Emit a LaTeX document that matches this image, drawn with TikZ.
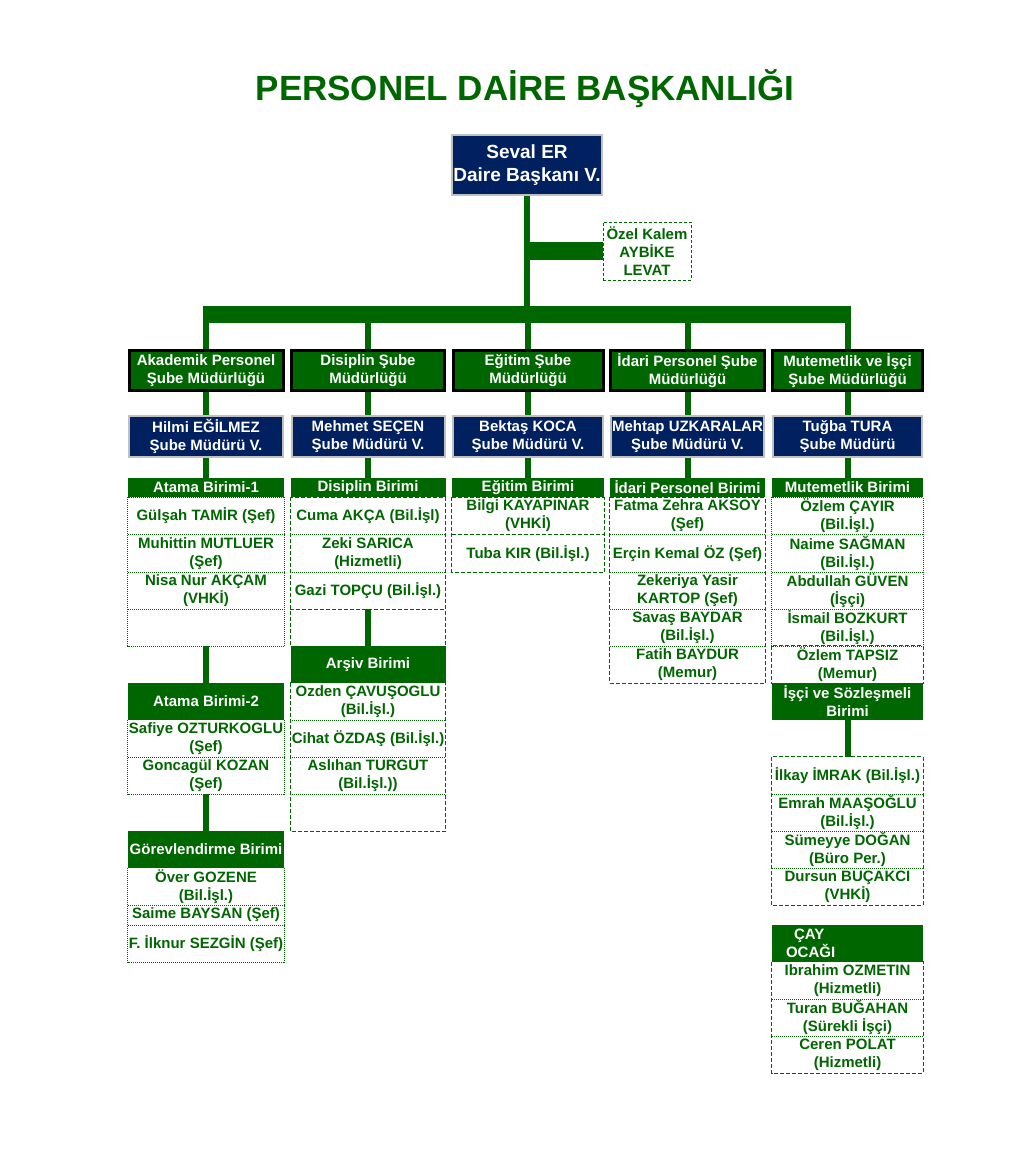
\documentclass[tikz,border=0pt]{standalone}
\usepackage{fontspec}
\setmainfont{Liberation Sans}
\usetikzlibrary{backgrounds}
\definecolor{dgreen}{RGB}{0,102,0}
\definecolor{navy}{RGB}{0,32,96}
\definecolor{lgray}{RGB}{192,192,192}
\tikzset{
  txt/.style={font=\fontsize{15}{18}\selectfont\bfseries, align=center, inner sep=0pt},
  ttl/.style={font=\fontsize{35}{40}\selectfont\bfseries, text=dgreen},
  topbox/.style={txt, fill=navy, draw=lgray, line width=2.5pt, text=white,
    font=\fontsize{19}{23}\selectfont\bfseries, minimum width=150pt, minimum height=60pt},
  ozelbox/.style={txt, draw=dgreen, line width=0.8pt, dash pattern=on 3pt off 2pt,
    text=dgreen, minimum width=88pt, minimum height=58pt},
  dept/.style={txt, fill=dgreen, draw=black, line width=3pt, text=white, minimum height=40pt},
  mgr/.style={txt, fill=navy, draw=lgray, line width=2pt, text=white, minimum height=41pt},
  hdr/.style={txt, fill=dgreen, text=white},
  cell/.style={txt, text=dgreen, minimum height=37pt},
  colA/.style={minimum width=156pt},
  colB/.style={minimum width=155pt},
  colC/.style={minimum width=152pt},
  colD/.style={minimum width=155pt},
  colE/.style={minimum width=151pt},
  link/.style={draw=dgreen, line width=6pt},
  bus/.style={draw=dgreen, line width=17pt},
  dotline/.style={draw=dgreen, line width=0.8pt, dash pattern=on 1pt off 1pt},
  dashline/.style={draw=dgreen, line width=0.8pt, dash pattern=on 4pt off 2pt}
}
\begin{document}
\begin{tikzpicture}[x=1pt, y=-1pt]
\useasboundingbox (0,0) rectangle (1024,1165);

\node[ttl] (title) at (525,89) {PERSONEL DAİRE BAŞKANLIĞI};
\node[topbox] (head) at (527,165) {Seval ER\\Daire Başkanı V.};
\node[ozelbox] (ozel) at (647,251) {Özel Kalem\\AYBİKE\\LEVAT};
\coordinate (busL) at (202.5,314.5);
\coordinate (busR) at (850.5,314.5);

% sube mudurlukleri
\node[dept, minimum width=154pt] (deptA) at (206,370.5) {Akademik Personel\\Şube Müdürlüğü};
\node[dept, minimum width=153pt] (deptB) at (368,370.5) {Disiplin Şube\\Müdürlüğü};
\node[dept, minimum width=150pt] (deptC) at (528,370.5) {Eğitim Şube\\Müdürlüğü};
\node[dept, minimum width=154pt] (deptD) at (687.5,370.5) {İdari Personel Şube\\Müdürlüğü};
\node[dept, minimum width=150pt] (deptE) at (847.5,370.5) {Mutemetlik ve İşçi\\Şube Müdürlüğü};

\node[mgr, minimum width=154pt] (mgrA) at (206,436.5) {Hilmi EĞİLMEZ\\Şube Müdürü V.};
\node[mgr, minimum width=153pt] (mgrB) at (368,436.5) {Mehmet SEÇEN\\Şube Müdürü V.};
\node[mgr, minimum width=150pt] (mgrC) at (528,436.5) {Bektaş KOCA\\Şube Müdürü V.};
\node[mgr, minimum width=153pt] (mgrD) at (687.5,436.5) {Mehtap UZKARALAR\\Şube Müdürü V.};
\node[mgr, minimum width=149pt] (mgrE) at (847.5,436.5) {Tuğba TURA\\Şube Müdürü};

% akademik
\node[hdr, colA, minimum height=19pt] (atama1) at (206,487.5) {Atama Birimi-1};
\node[cell, colA] (a11) at (206,516) {Gülşah TAMİR (Şef)};
\node[cell, colA] (a12) at (206,553.5) {Muhittin MUTLUER\\(Şef)};
\node[cell, colA] (a13) at (206,590.5) {Nisa Nur AKÇAM\\(VHKİ)};
\node[cell, colA] (a14) at (206,627.5) {};
\node[hdr, colA, minimum height=37pt] (atama2) at (206,701.5) {Atama Birimi-2};
\node[cell, colA] (a21) at (206,738.5) {Safiye OZTURKOGLU\\(Şef)};
\node[cell, colA] (a22) at (206,775.5) {Goncagül KOZAN\\(Şef)};
\node[hdr, colA, minimum height=37pt] (gorev) at (206,849.5) {Görevlendirme Birimi};
\node[cell, colA] (g1) at (206,886.5) {Över GOZENE\\(Bil.İşl.)};
\node[cell, colA, minimum height=20pt] (g2) at (206,915) {Saime BAYSAN (Şef)};
\node[cell, colA] (g3) at (206,943.5) {F. İlknur SEZGİN (Şef)};

% disiplin
\node[hdr, colB, minimum height=19pt] (disiplin) at (368,487.5) {Disiplin Birimi};
\node[cell, colB] (b11) at (368,516) {Cuma AKÇA (Bil.İşl)};
\node[cell, colB] (b12) at (368,553.5) {Zeki SARICA\\(Hizmetli)};
\node[cell, colB] (b13) at (368,590.5) {Gazi TOPÇU (Bil.İşl.)};
\node[cell, colB] (b14) at (368,627.5) {};
\node[hdr, colB, minimum height=37pt] (arsiv) at (368,664.5) {Arşiv Birimi};
\node[cell, colB] (b21) at (368,701.5) {Ozden ÇAVUŞOGLU\\(Bil.İşl.)};
\node[cell, colB] (b22) at (368,738.5) {Cihat ÖZDAŞ (Bil.İşl.)};
\node[cell, colB] (b23) at (368,775.5) {Aslıhan TURGUT\\(Bil.İşl.))};
\node[cell, colB] (b24) at (368,812.5) {};

% egitim
\node[hdr, colC, minimum height=19pt] (egitim) at (528,487.5) {Eğitim Birimi};
\node[cell, colC] (c1) at (528,516) {Bilgi KAYAPINAR\\(VHKİ)};
\node[cell, colC] (c2) at (528,553.5) {Tuba KIR (Bil.İşl.)};

% idari
\node[hdr, colD, minimum height=19pt] (idari) at (687.5,487.5) {İdari Personel Birimi};
\node[cell, colD] (d1) at (687.5,516) {Fatma Zehra AKSOY\\(Şef)};
\node[cell, colD] (d2) at (687.5,553.5) {Erçin Kemal ÖZ (Şef)};
\node[cell, colD] (d3) at (687.5,590.5) {Zekeriya Yasir\\KARTOP (Şef)};
\node[cell, colD] (d4) at (687.5,627.5) {Savaş BAYDAR\\(Bil.İşl.)};
\node[cell, colD] (d5) at (687.5,664.5) {Fatih BAYDUR\\(Memur)};

% mutemetlik
\node[hdr, colE, minimum height=19pt] (mutemet) at (847.5,487.5) {Mutemetlik Birimi};
\node[cell, colE] (e1) at (847.5,516) {Özlem ÇAYIR\\(Bil.İşl.)};
\node[cell, colE] (e2) at (847.5,553.5) {Naime SAĞMAN\\(Bil.İşl.)};
\node[cell, colE] (e3) at (847.5,590.5) {Abdullah GÜVEN\\(İşçi)};
\node[cell, colE] (e4) at (847.5,627.5) {İsmail BOZKURT\\(Bil.İşl.)};
\node[cell, colE] (e5) at (847.5,664.5) {Özlem TAPSIZ\\(Memur)};
\node[hdr, colE, minimum height=37pt] (isci) at (847.5,701.5) {İşçi ve Sözleşmeli\\Birimi};
\node[cell, colE] (e21) at (847.5,775.5) {İlkay İMRAK (Bil.İşl.)};
\node[cell, colE] (e22) at (847.5,812.5) {Emrah MAAŞOĞLU\\(Bil.İşl.)};
\node[cell, colE] (e23) at (847.5,849.5) {Sümeyye DOĞAN\\(Büro Per.)};
\node[cell, colE] (e24) at (847.5,886.5) {Dursun BUÇAKCI\\(VHKİ)};
\node[hdr, text width=151pt, align=left, minimum height=37pt] (cay) at (847.5,943.5) {\hspace*{22pt}ÇAY\\\hspace*{14pt}OCAĞI};
\node[cell, colE] (e31) at (847.5,980.5) {Ibrahim OZMETIN\\(Hizmetli)};
\node[cell, colE] (e32) at (847.5,1017.5) {Turan BUĞAHAN\\(Sürekli İşçi)};
\node[cell, colE] (e33) at (847.5,1054.5) {Ceren POLAT\\(Hizmetli)};

% cizgiler
\begin{pgfonlayer}{background}
  \fill[white] (0,0) rectangle (1024,1165);
  \draw[link] (head.south) -- (head.south |- busL);
  \draw[link, line width=18pt] (head.south |- ozel.west) -- (ozel.west);
  \draw[bus] (busL) -- (busR);
  \foreach \c in {A,B,C,D,E} {
    \draw[link] (dept\c.north |- busL) -- (dept\c.north);
    \draw[link] (dept\c.south) -- (mgr\c.north);
  }
  \draw[link] (mgrA.south) -- (atama1.north);
  \draw[link] (mgrB.south) -- (disiplin.north);
  \draw[link] (mgrC.south) -- (egitim.north);
  \draw[link] (mgrD.south) -- (idari.north);
  \draw[link] (mgrE.south) -- (mutemet.north);
  \draw[link] (a14.south) -- (atama2.north);
  \draw[link] (a22.south) -- (gorev.north);
  \draw[link] (b13.south) -- (arsiv.north);
  \draw[link] (isci.south) -- (e21.north);
\end{pgfonlayer}

\foreach \n in {a11,a12,a13,a21,g1,g2,b11,b12,b21,b22,b23,d1,d2,d3,d4,e1,e2,e3,e21,e22,e23,e31,e32}
  \draw[dotline] (\n.south west) -- (\n.south east);
\draw[dashline] (b13.south west) -- (b13.south east);
\draw[dashline] (c1.south west) -- (c1.south east);
\draw[dotline] (a11.north west) rectangle (a14.south east);
\draw[dotline] (a21.north west) rectangle (a22.south east);
\draw[dotline] (g1.north west) rectangle (g3.south east);
\draw[dotline] (e1.north west) rectangle (e4.south east);
\draw[dashline] (e5.north west) rectangle (e5.south east);
\draw[dashline] (b11.north west) rectangle (b14.south east);
\draw[dashline] (b21.north west) rectangle (b24.south east);
\draw[dashline] (c1.north west) rectangle (c2.south east);
\draw[dashline] (d1.north west) rectangle (d5.south east);
\draw[dashline] (e21.north west) rectangle (e24.south east);
\draw[dashline] (e31.north west) rectangle (e33.south east);
\end{tikzpicture}
\end{document}
